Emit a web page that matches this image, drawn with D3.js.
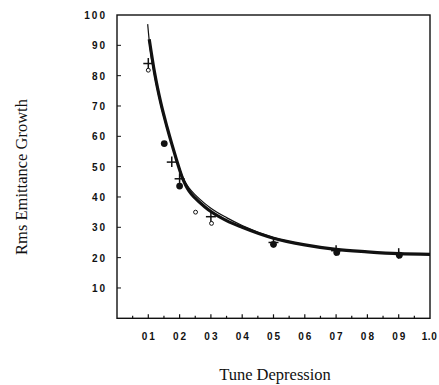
<!DOCTYPE html>
<html><head><meta charset="utf-8">
<script src="https://cdn.jsdelivr.net/npm/d3@7"></script>
<style>
body{margin:0;background:#fff;}
svg{display:block;}
.tick-label{font-family:"Liberation Sans",Arial,sans-serif;font-weight:bold;font-size:10px;letter-spacing:2px;fill:#111;}
.title{font-family:"Liberation Serif","Times New Roman",serif;font-size:16.5px;fill:#111;}
</style></head>
<body><svg id="c" width="439" height="385"></svg>
<script>
// ---- data ----
const xTicks = [0.1,0.2,0.3,0.4,0.5,0.6,0.7,0.8,0.9,1.0];
const xTickLabels = ["01","02","03","04","05","06","07","08","09","1.0"];
const yTicks = [10,20,30,40,50,60,70,80,90,100];
const yTickLabels = ["10","20","30","40","50","60","70","80","90","100"];
// thick fitted curve
const thickX = [0.103,0.12,0.14,0.16,0.175,0.19,0.2,0.21,0.22,0.23,0.25,0.28,0.3,0.35,0.4,0.5,0.6,0.7,0.8,0.9,1.0];
const thickY = [92,81,71,63,57.5,52.3,49,46,43.8,42,39.6,36.8,35.2,32.2,30,26.4,24.2,22.7,21.9,21.3,21.1];
// thin curve
const thinX = [0.098,0.105,0.12,0.14,0.16,0.175,0.19,0.2,0.21,0.22,0.23,0.25,0.28,0.3,0.35,0.4,0.5,0.6,0.7,0.8,0.9,1.0];
const thinY = [97,89.5,80,70.3,62.5,57.3,52.5,49.4,46.6,44.6,43,40.7,37.9,36.3,33.2,30.6,26.6,24.3,22.8,21.9,21.3,21.1];
// markers
const plusX = [0.1,0.175,0.2,0.3,0.5,0.7,0.9];
const plusY = [84,51.5,46,33.5,25,22.3,21.3];
const filledX = [0.151,0.2,0.5,0.702,0.902];
const filledY = [57.6,43.6,24.4,21.7,20.8];
const openX = [0.1,0.251,0.302];
const openY = [81.8,35,31.3];

const svg = d3.select("#c");
const x = d3.scaleLinear().domain([0,1]).range([117,430]);
const y = d3.scaleLinear().domain([0,100]).range([318.3,15]);

// frame
svg.append("rect").attr("x",x(0)).attr("y",y(100)).attr("width",x(1)-x(0)).attr("height",y(0)-y(100))
  .attr("fill","none").attr("stroke","#111").attr("stroke-width",1.4);

// x axis ticks (inward) every 0.05
const xMinor = d3.range(1,20).map(i=>i*0.05);
svg.append("g").selectAll("line").data(xMinor).join("line")
  .attr("x1",d=>x(d)).attr("x2",d=>x(d)).attr("y1",y(0)).attr("y2",(d,i)=>y(0)-(i%2===1?4:2.5))
  .attr("stroke","#111").attr("stroke-width",1.2);
// y axis ticks (inward)
svg.append("g").selectAll("line").data(yTicks.slice(0,9)).join("line")
  .attr("x1",x(0)).attr("x2",x(0)+4).attr("y1",d=>y(d)).attr("y2",d=>y(d))
  .attr("stroke","#111").attr("stroke-width",1);

// tick labels
svg.append("g").selectAll("text").data(xTicks).join("text").attr("class","tick-label")
  .attr("x",(d,i)=>i===xTicks.length-1?x(d)-0.5:x(d)+1).attr("y",340).attr("text-anchor","middle")
  .style("letter-spacing",(d,i)=>i===xTicks.length-1?"0.5px":null)
  .text((d,i)=>xTickLabels[i]);
svg.append("g").selectAll("text").data(yTicks).join("text").attr("class","tick-label")
  .attr("x",107).attr("y",d=>y(d)+4).attr("text-anchor","end").text((d,i)=>yTickLabels[i]);

// titles
svg.append("text").attr("class","title").attr("text-anchor","middle")
  .attr("transform","translate(27,177) rotate(-90)").text("Rms Emittance Growth");
svg.append("text").attr("class","title").attr("text-anchor","middle")
  .attr("x",275).attr("y",380).text("Tune Depression");

// curves
const line = d3.line().x(d=>x(d[0])).y(d=>y(d[1])).curve(d3.curveMonotoneX);
svg.append("path").datum(thinX.map((v,i)=>[v,thinY[i]])).attr("d",line)
  .attr("fill","none").attr("stroke","#111").attr("stroke-width",1.2);
svg.append("path").datum(thickX.map((v,i)=>[v,thickY[i]])).attr("d",line)
  .attr("fill","none").attr("stroke","#111").attr("stroke-width",3.2);

// markers
const g = svg.append("g");
g.selectAll(".plx").data(plusX.map((v,i)=>[v,plusY[i]])).join("g").attr("class","plx")
  .attr("transform",d=>`translate(${x(d[0])},${y(d[1])})`)
  .call(s=>{
    s.append("line").attr("x1",-5).attr("x2",5).attr("y1",0).attr("y2",0).attr("stroke","#111").attr("stroke-width",1.5);
    s.append("line").attr("x1",0).attr("x2",0).attr("y1",-5.5).attr("y2",5).attr("stroke","#111").attr("stroke-width",1.5);
  });
g.selectAll(".fi").data(filledX.map((v,i)=>[v,filledY[i]])).join("path").attr("class","fi")
  .attr("d",d3.symbol(d3.symbolCircle,36)).attr("fill","#111")
  .attr("transform",d=>`translate(${x(d[0])},${y(d[1])})`);
g.selectAll(".op").data(openX.map((v,i)=>[v,openY[i]])).join("path").attr("class","op")
  .attr("d",d3.symbol(d3.symbolCircle,12)).attr("fill","none").attr("stroke","#111").attr("stroke-width",1)
  .attr("transform",d=>`translate(${x(d[0])},${y(d[1])})`);
</script></body></html>
